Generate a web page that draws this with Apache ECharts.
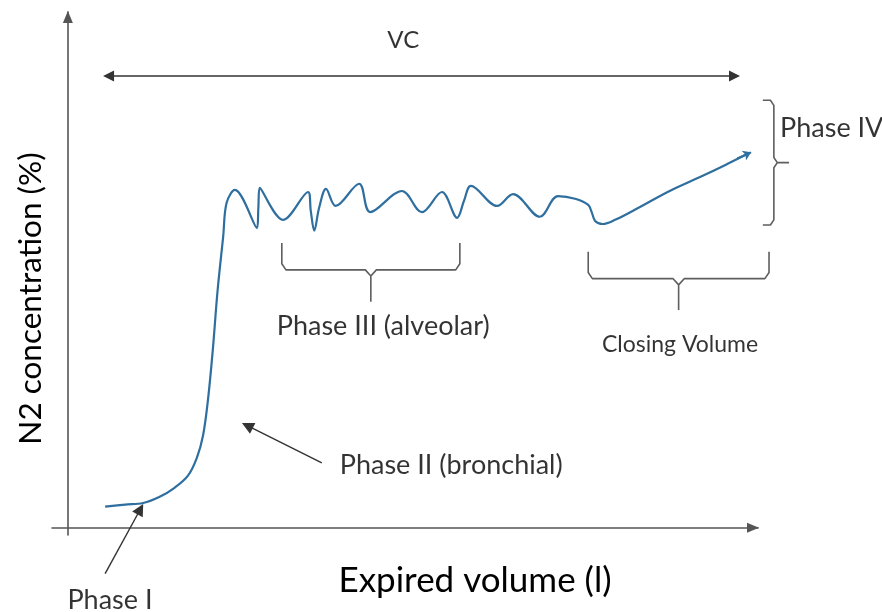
<!DOCTYPE html>
<html>
<head>
<meta charset="utf-8">
<script src="https://cdn.jsdelivr.net/npm/echarts@6/dist/echarts.min.js"></script>
<style>
    html, body { margin: 0; background: #fff; }
    #main { width: 882px; height: 612px; }
</style>
</head>
<body>
<div id="main"></div>
<script>
// N2 washout curve (axis units 0-100)
const volume = [5.4, 8.3, 10.9, 13.3, 15.5, 17.4, 18.7, 19.6, 20.3, 21.0, 21.7, 22.5, 23.0, 24.2,
    27.4, 27.6, 27.8, 31.2, 34.8, 35.2, 35.7, 36.4, 37.4, 38.8, 42.2, 43.8, 48.4, 51.3, 54.2, 56.4,
    57.4, 58.4, 62.2, 64.5, 68.4, 71.0, 73.5, 75.4, 75.9, 76.4, 77.5, 79.3, 82.9, 87.2, 91.6, 95.2, 98.8];
const n2 = [4.1, 4.5, 4.8, 6.0, 7.8, 10.1, 13.6, 18.0, 24.8, 34.5, 46.1, 56.4, 63.0, 65.5,
    58.1, 62.0, 65.9, 59.7, 65.1, 61.4, 57.6, 62.0, 65.7, 62.4, 66.7, 61.2, 65.3, 61.2, 65.1, 60.1,
    63.4, 66.3, 62.4, 64.7, 60.3, 64.3, 63.8, 62.6, 61.2, 59.5, 58.9, 59.7, 62.2, 65.3, 68.0, 70.3, 72.7];

// brackets: [from, to, arm end, base, stem tip]
const phase3Bracket = [31.0, 56.8, 55.2, 50.0, 43.8];
const closingBracket = [75.4, 101.6, 53.5, 48.3, 42.2];
// vertical bracket: [y from, y to, spine x, arm x, tick x]
const phase4Bracket = [58.7, 82.9, 102.3, 100.7, 104.5];

// arrows: [x1, y1, x2, y2]
const vcArrow = [5.9, 87.6, 96.6, 87.6];
const pointerArrows = [
    [5.4, -8.9, 10.5, 3.6],
    [36.8, 12.6, 26.0, 19.8]
];
const curveTip = [97.0, 71.6, 99.0, 72.8];

const labelNames = ['VC', 'Phase III (alveolar)', 'Closing Volume', 'Phase II (bronchial)', 'Phase I', 'Phase IV'];
const labelX = [48.6, 45.7, 88.7, 39.4, 6.1, 103.2];
const labelY = [94.6, 39.0, 35.5, 12.2, -14.0, 77.5];
const labelSizes = [24, 27, 23, 27, 27, 27];

function hBracket(b) {
    const [x0, x1, top, base, tip] = b;
    const xc = (x0 + x1) / 2;
    return [
        [x0, top], [x0, base + 1.2], [x0 + 0.6, base], [xc - 0.8, base], [xc, base - 1.2], [xc, tip],
        [xc, base - 1.2], [xc + 0.8, base], [x1 - 0.6, base], [x1, base + 1.2], [x1, top]
    ];
}

function vBracket(b) {
    const [y0, y1, spine, arm, tick] = b;
    const yc = (y0 + y1) / 2;
    return [
        [arm, y1], [spine - 0.5, y1], [spine, y1 - 1.0], [spine, yc + 1.0], [spine + 0.5, yc], [tick, yc],
        [spine + 0.5, yc], [spine, yc - 1.0], [spine, y0 + 1.0], [spine - 0.5, y0], [arm, y0]
    ];
}

const chart = echarts.init(document.getElementById('main'));

const axisCommon = {
    type: 'value',
    axisLine: {
        onZero: true,
        symbol: ['none', 'triangle'],
        symbolSize: [10, 12],
        symbolOffset: [0, -5],
        lineStyle: { color: '#555', width: 1.6 }
    },
    axisTick: { show: false },
    axisLabel: { show: false },
    splitLine: { show: false },
    nameLocation: 'middle'
};

// second, invisible grid with the same scale, wider to the right, for the notes
const noteAxis = { type: 'value', gridIndex: 1, show: false, splitLine: { show: false } };

const bracketStyle = {
    type: 'line',
    xAxisIndex: 1,
    yAxisIndex: 1,
    showSymbol: false,
    silent: true,
    clip: false,
    lineStyle: { color: '#5e5e5e', width: 1.6 }
};

const option = {
    animation: false,
    backgroundColor: '#fff',
    textStyle: { fontFamily: 'Lato' },
    grid: [
        { left: 52, right: 124, top: 12, bottom: 77, containLabel: false, outerBoundsMode: 'none' },
        { left: 52, right: 55, top: 12, bottom: 77, containLabel: false, outerBoundsMode: 'none' }
    ],
    xAxis: [
        Object.assign({}, axisCommon, {
            min: -2.3,
            max: 100,
            name: 'Expired volume (l)',
            nameGap: 28,
            nameTextStyle: { fontSize: 35, color: '#000', fontFamily: 'Lato', padding: [0, 0, 0, 140] }
        }),
        Object.assign({}, noteAxis, { min: -2.3, max: 110 })
    ],
    yAxis: [
        Object.assign({}, axisCommon, {
            min: -1.4,
            max: 100,
            name: 'N2 concentration (%)',
            nameGap: 5,
            nameTextStyle: { fontSize: 31.5, color: '#000', fontFamily: 'Lato', padding: [0, 50, 0, 0] }
        }),
        Object.assign({}, noteAxis, { min: -1.4, max: 100 })
    ],
    series: [
        {
            type: 'line',
            smooth: 0.35,
            showSymbol: false,
            silent: true,
            lineStyle: { color: '#2f6f9f', width: 2.2 },
            data: volume.map((v, i) => [v, n2[i]])
        },
        Object.assign({}, bracketStyle, { data: hBracket(phase3Bracket) }),
        Object.assign({}, bracketStyle, { data: hBracket(closingBracket) }),
        Object.assign({}, bracketStyle, { data: vBracket(phase4Bracket) }),
        {
            type: 'lines',
            coordinateSystem: 'cartesian2d',
            xAxisIndex: 1,
            yAxisIndex: 1,
            silent: true,
            clip: false,
            symbol: ['triangle', 'triangle'],
            symbolSize: 11,
            lineStyle: { color: '#333', width: 1.6, opacity: 1 },
            data: [{ coords: [[vcArrow[0], vcArrow[1]], [vcArrow[2], vcArrow[3]]] }]
        },
        {
            type: 'lines',
            coordinateSystem: 'cartesian2d',
            xAxisIndex: 1,
            yAxisIndex: 1,
            silent: true,
            clip: false,
            symbol: ['none', 'triangle'],
            symbolSize: 12,
            lineStyle: { color: '#333', width: 1.4, opacity: 1 },
            data: pointerArrows.map(a => ({ coords: [[a[0], a[1]], [a[2], a[3]]] }))
        },
        {
            type: 'lines',
            coordinateSystem: 'cartesian2d',
            xAxisIndex: 1,
            yAxisIndex: 1,
            silent: true,
            clip: false,
            symbol: ['none', 'arrow'],
            symbolSize: 8,
            lineStyle: { color: '#2f6f9f', width: 2, opacity: 1 },
            data: [{ coords: [[curveTip[0], curveTip[1]], [curveTip[2], curveTip[3]]] }]
        },
        {
            type: 'scatter',
            xAxisIndex: 1,
            yAxisIndex: 1,
            silent: true,
            clip: false,
            symbolSize: 0,
            data: labelNames.map((name, i) => ({
                name: name,
                value: [labelX[i], labelY[i]],
                label: {
                    show: true,
                    position: (name === 'Phase IV' || name === 'Phase II (bronchial)') ? 'right' : 'inside',
                    distance: 0,
                    formatter: '{b}',
                    fontSize: labelSizes[i],
                    fontFamily: 'Lato',
                    color: '#000'
                }
            }))
        }
    ]
};

chart.setOption(option);
</script>
</body>
</html>
